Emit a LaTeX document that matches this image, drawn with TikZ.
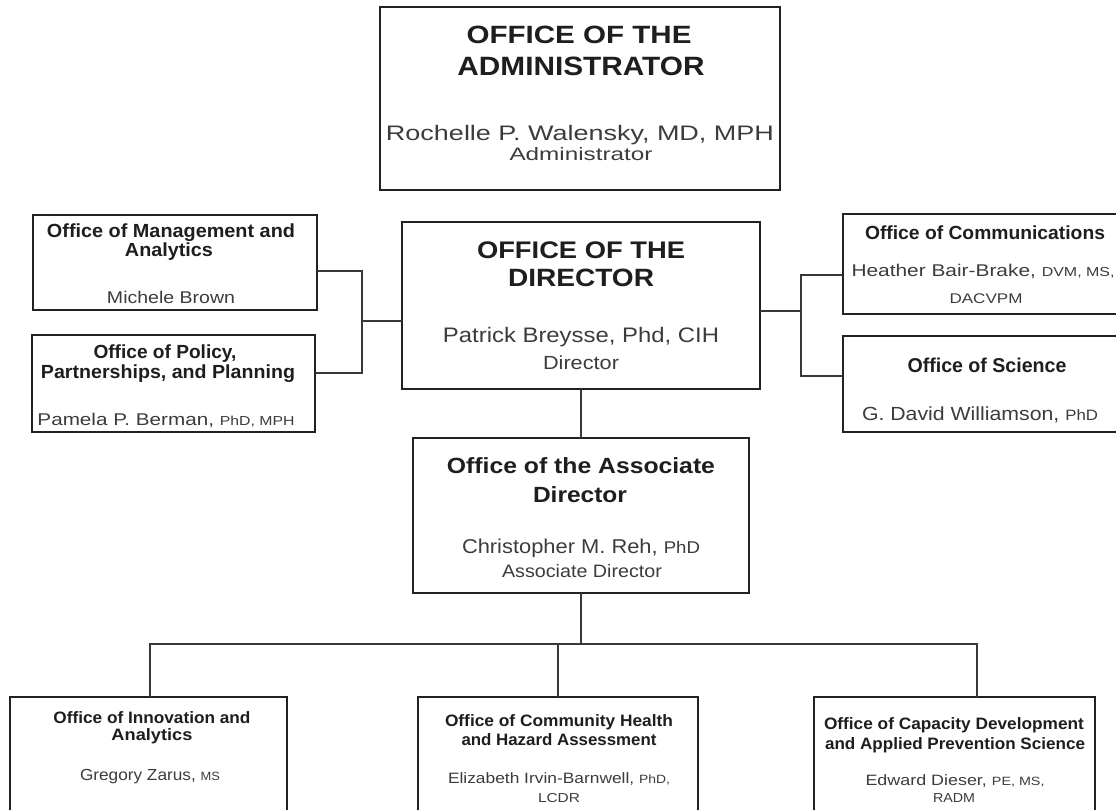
\documentclass[tikz,border=0pt]{standalone}
\usepackage{fontspec}
\usepackage{graphicx}
\setmainfont{Liberation Sans}
\definecolor{ttl}{HTML}{1E1E1E}
\definecolor{nam}{HTML}{3C3C3C}
\definecolor{edge}{HTML}{222222}
\newcommand\tline[3]{\resizebox{#1}{\height}{\fontsize{#2}{#2}\selectfont #3}}
\newcommand\sm[1]{{\fontsize{13}{13}\selectfont #1}}
\tikzset{
  box/.style={draw=edge, line width=2.6pt, rectangle, inner sep=0pt, outer sep=0pt, fill=white},
  conn/.style={draw=edge!90, line width=2pt},
  tt/.style={anchor=base, inner sep=0pt, text=ttl},
  nm/.style={anchor=base, inner sep=0pt, text=nam}
}
\begin{document}
\begin{tikzpicture}[x=1pt,y=-1pt]
\useasboundingbox (0,0) rectangle (1116,809);
\clip (0,0) rectangle (1116,809);
\fill[white] (0,0) rectangle (1116,809);

% boxes
\node[box, minimum width=400pt, minimum height=183pt] (admin) at (580,98.5) {};
\node[box, minimum width=358pt, minimum height=167pt] (dir) at (581,305.5) {};
\node[box, minimum width=336pt, minimum height=155pt] (assoc) at (581,515.5) {};
\node[box, minimum width=284pt, minimum height=95pt] (mgmt) at (175,262.5) {};
\node[box, minimum width=283pt, minimum height=97pt] (policy) at (173.5,383.5) {};
\node[box, minimum width=284pt, minimum height=100pt] (comm) at (985,264) {};
\node[box, minimum width=284pt, minimum height=96pt] (sci) at (985,384) {};
\node[box, minimum width=277pt, minimum height=118pt] (bl) at (148.5,756) {};
\node[box, minimum width=280pt, minimum height=118pt] (bm) at (558,756) {};
\node[box, minimum width=281pt, minimum height=118pt] (br) at (954.5,756) {};

% connectors left
\coordinate (lv1) at (362,271);
\coordinate (lv2) at (362,373);
\coordinate (lj) at (362,321);
\draw[conn] (mgmt.east |- lv1) -- (lv1) -- (lv2) -- (policy.east |- lv2);
\draw[conn] (lj) -- (dir.west |- lj);
% connectors right
\coordinate (rv1) at (801,275);
\coordinate (rv2) at (801,376);
\coordinate (rj) at (801,311);
\draw[conn] (comm.west |- rv1) -- (rv1) -- (rv2) -- (sci.west |- rv2);
\draw[conn] (rj) -- (dir.east |- rj);
% director to associate
\draw[conn] (dir.south) -- (assoc.north);
% associate to bottom row
\coordinate (hb) at (581,644);
\coordinate (hl) at (150,644);
\coordinate (hm) at (558,644);
\coordinate (hr) at (977,644);
\draw[conn] (assoc.south) -- (hb);
\draw[conn] (hl |- bl.north) -- (hl) -- (hr) -- (hr |- br.north);
\draw[conn] (hm) -- (hm |- bm.north);

% admin texts
\node[tt] (a1) at (579,43) {\tline{225pt}{25}{\bfseries OFFICE OF THE}};
\node[tt] (a2) at (581,75) {\tline{247pt}{26.5}{\bfseries ADMINISTRATOR}};
\node[nm] (a3) at (580,140) {\tline{388pt}{21}{Rochelle P. Walensky, MD, MPH}};
\node[nm] (a4) at (581,160) {\tline{143pt}{18}{Administrator}};

% director texts
\node[tt] (d1) at (581,258) {\tline{208pt}{24}{\bfseries OFFICE OF THE}};
\node[tt] (d2) at (581,286) {\tline{146pt}{25}{\bfseries DIRECTOR}};
\node[nm] (d3) at (581,342) {\tline{276pt}{21}{Patrick Breysse, Phd, CIH}};
\node[nm] (d4) at (581,369) {\tline{76pt}{19}{Director}};

% associate texts
\node[tt] (s1) at (581,473) {\tline{268pt}{22}{\bfseries Office of the Associate}};
\node[tt] (s2) at (580,502) {\tline{94pt}{22}{\bfseries Director}};
\node[nm] (s3) at (581,553) {\tline{238pt}{20}{Christopher M. Reh, {\fontsize{17}{17}\selectfont PhD}}};
\node[nm] (s4) at (582,577) {\tline{160pt}{18}{Associate Director}};

% management
\node[tt] (m1) at (171,237) {\tline{248pt}{19}{\bfseries Office of Management and}};
\node[tt] (m2) at (169,256) {\tline{88pt}{19}{\bfseries Analytics}};
\node[nm] (m3) at (171,303) {\tline{128pt}{17}{Michele Brown}};

% policy
\node[tt] (p1) at (165,358) {\tline{143pt}{19}{\bfseries Office of Policy,}};
\node[tt] (p2) at (168,378) {\tline{254pt}{19}{\bfseries Partnerships, and Planning}};
\node[nm] (p3) at (166,425) {\tline{257pt}{17}{Pamela P. Berman, \sm{PhD, MPH}}};

% communications
\node[tt] (c1) at (985,239) {\tline{240pt}{19}{\bfseries Office of Communications}};
\node[nm] (c2) at (983,276) {\tline{263pt}{17}{Heather Bair-Brake, \sm{DVM, MS,}}};
\node[nm] (c3) at (986,303) {\tline{73pt}{14}{DACVPM}};

% science
\node[tt] (o1) at (987,372) {\tline{159pt}{20}{\bfseries Office of Science}};
\node[nm] (o2) at (980,420) {\tline{236pt}{19}{G. David Williamson, {\fontsize{15}{15}\selectfont PhD}}};

% bottom left
\node[tt] (b1) at (152,723) {\tline{197pt}{16.5}{\bfseries Office of Innovation and}};
\node[tt] (b2) at (152,740) {\tline{81pt}{16.5}{\bfseries Analytics}};
\node[nm] (b3) at (150,780) {\tline{140pt}{16}{Gregory Zarus, {\fontsize{12}{12}\selectfont MS}}};

% bottom middle
\node[tt] (e1) at (559,726) {\tline{228pt}{16.5}{\bfseries Office of Community Health}};
\node[tt] (e2) at (559,745) {\tline{195pt}{16.5}{\bfseries and Hazard Assessment}};
\node[nm] (e3) at (559,783) {\tline{222pt}{15}{Elizabeth Irvin-Barnwell, {\fontsize{12}{12}\selectfont PhD,}}};
\node[nm] (e4) at (559,802) {\tline{42pt}{13}{LCDR}};

% bottom right
\node[tt] (r1) at (954,729) {\tline{260pt}{16.5}{\bfseries Office of Capacity Development}};
\node[tt] (r2) at (955,749) {\tline{260pt}{16.5}{\bfseries and Applied Prevention Science}};
\node[nm] (r3) at (955,785) {\tline{179pt}{15}{Edward Dieser, {\fontsize{12}{12}\selectfont PE, MS,}}};
\node[nm] (r4) at (954,802) {\tline{42pt}{13}{RADM}};
\end{tikzpicture}
\end{document}
